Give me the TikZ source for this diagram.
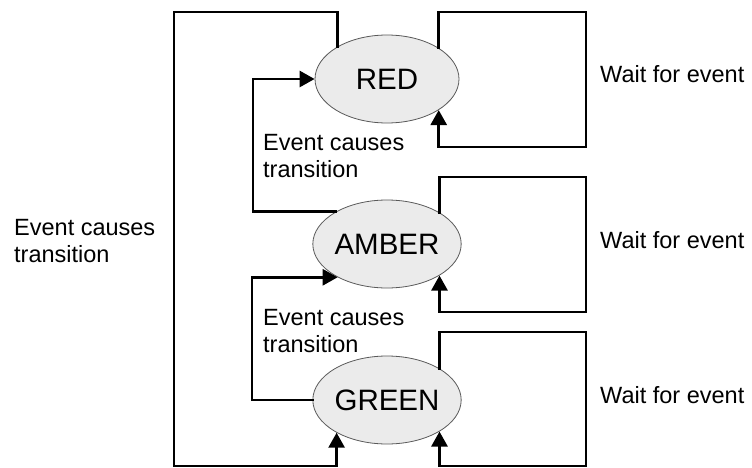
\documentclass[tikz,border=0pt]{standalone}
\usepackage{fontspec}
\setmainfont{Liberation Sans}
\usetikzlibrary{arrows.meta,shapes.geometric}
\begin{document}
\begin{tikzpicture}[x=1pt,y=-1pt,
  state/.style={ellipse,draw=black!65,line width=0.8pt,fill=black!8,
    minimum width=144pt,minimum height=88pt,inner sep=0pt,
    font=\fontsize{29.5}{33}\selectfont},
  lbl/.style={anchor=base west,align=left,inner sep=0pt,
    font=\fontsize{23.5}{27}\selectfont},
  wire/.style={line width=2.8pt,line cap=rect},
  arr/.style={wire,-{Triangle[length=15pt,width=16pt]}}]
  \useasboundingbox (0,0) rectangle (752,468);

  % states
  \node[state] (red)   at (387,79)  {RED};
  \node[state] (amber) at (387,244) {AMBER};
  \node[state] (green) at (387,400) {GREEN};

  % corner points of the connectors
  \coordinate (otl) at (174,12);
  \coordinate (obl) at (174,466);
  \coordinate (ar)  at (253,150);
  \coordinate (ga)  at (252,330);
  \coordinate (rr1) at (586,12);
  \coordinate (rr2) at (586,147);
  \coordinate (ar1) at (586,177);
  \coordinate (ar2) at (586,312);
  \coordinate (gr1) at (586,332);
  \coordinate (gr2) at (586,466);

  % transitions between states
  \draw[arr] (red.147.7) |- (otl) -- (obl) -| (green.213.3);
  \draw[arr] (amber.148) -| (ar) |- (red.west);
  \draw[arr] (green.west) -| (ga) |- (amber.214.7);

  % waiting loops
  \draw[arr] (red.31.3)   |- (rr1) -- (rr2) -| (red.-31.3);
  \draw[arr] (amber.31.3) |- (ar1) -- (ar2) -| (amber.-31.3);
  \draw[arr] (green.31.3) |- (gr1) -- (gr2) -| (green.-31.3);

  % labels (anchored on the baseline of their last line)
  \node[lbl] (tl)  at (14,262)  {Event causes\\transition};
  \node[lbl] (t1)  at (263,177) {Event causes\\transition};
  \node[lbl] (t2)  at (263,352) {Event causes\\transition};
  \node[lbl] (w1)  at (600,83)  {Wait for event};
  \node[lbl] (w2)  at (600,248) {Wait for event};
  \node[lbl] (w3)  at (600,403) {Wait for event};
\end{tikzpicture}
\end{document}
